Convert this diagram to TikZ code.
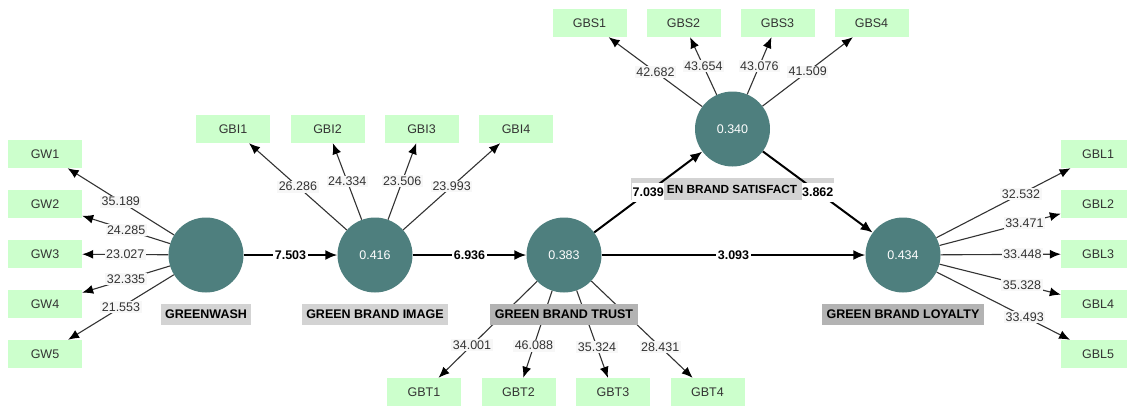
\documentclass[tikz,border=0pt]{standalone}
\usepackage{fontspec}
\setmainfont{Liberation Sans}
\usetikzlibrary{arrows.meta}

\definecolor{lvteal}{HTML}{4E7F7E}
\definecolor{indgreen}{HTML}{CCFFCC}
\definecolor{namegray}{HTML}{D3D3D3}
\definecolor{namedark}{HTML}{B3B3B3}
\definecolor{lblbg}{HTML}{F7F7F7}

\begin{document}
\begin{tikzpicture}[x=1pt, y=-1pt,
    every node/.style={font=\fontsize{12.5}{14}\selectfont},
    latent/.style={circle, fill=lvteal, minimum size=75pt, inner sep=0pt, text=white},
    ind/.style={fill=indgreen, minimum width=74pt, minimum height=28pt, inner sep=0pt, text=black!80},
    lvname/.style={fill=namegray, minimum height=21pt, inner xsep=4.5pt, inner ysep=0pt, font=\fontsize{12.5}{14}\selectfont\bfseries},
    load/.style={draw=black!80, line width=1.1pt, -{Latex[length=11pt,width=9pt,color=black]}},
    inner/.style={draw=black, line width=2pt, -{Latex[length=12pt,width=10pt]}},
    loadlbl/.style={fill=lblbg, inner sep=1.5pt, text=black!80},
    innerlbl/.style={fill=white, inner sep=1.5pt, font=\fontsize{12.5}{14}\selectfont\bfseries}]
    \useasboundingbox (0,0) rectangle (1127,407);

    % latent variables
    \node (gw) [latent] at (206,255) {};
    \node (gbi) [latent] at (375,255) {0.416};
    \node (gbt) [latent] at (564,255) {0.383};
    \node (gbs) [latent] at (732.5,129) {0.340};
    \node (gbl) [latent] at (903,255) {0.434};

    % indicators
    \node (gw1) [ind] at (45,154) {GW1};
    \node (gw2) [ind] at (45,204) {GW2};
    \node (gw3) [ind] at (45,254) {GW3};
    \node (gw4) [ind] at (45,304) {GW4};
    \node (gw5) [ind] at (45,354) {GW5};

    \node (gbi1) [ind] at (233,129) {GBI1};
    \node (gbi2) [ind] at (327.5,129) {GBI2};
    \node (gbi3) [ind] at (421.5,129) {GBI3};
    \node (gbi4) [ind] at (516,129) {GBI4};

    \node (gbt1) [ind] at (424,392) {GBT1};
    \node (gbt2) [ind] at (518.5,392) {GBT2};
    \node (gbt3) [ind] at (613,392) {GBT3};
    \node (gbt4) [ind] at (707.5,392) {GBT4};

    \node (gbs1) [ind] at (589.5,23) {GBS1};
    \node (gbs2) [ind] at (683.5,23) {GBS2};
    \node (gbs3) [ind] at (777.5,23) {GBS3};
    \node (gbs4) [ind] at (871.5,23) {GBS4};

    \node (gbl1) [ind] at (1098,154) {GBL1};
    \node (gbl2) [ind] at (1098,204) {GBL2};
    \node (gbl3) [ind] at (1098,254) {GBL3};
    \node (gbl4) [ind] at (1098,304) {GBL4};
    \node (gbl5) [ind] at (1098,354) {GBL5};

    % outer loadings
    \draw[load] (gw) -- node[loadlbl, pos=.5] {35.189} (gw1);
    \draw[load] (gw) -- node[loadlbl, pos=.5] {24.285} (gw2);
    \draw[load] (gw) -- node[loadlbl, pos=.5] {23.027} (gw3);
    \draw[load] (gw) -- node[loadlbl, pos=.5] {32.335} (gw4);
    \draw[load] (gw) -- node[loadlbl, pos=.5] {21.553} (gw5);

    \draw[load] (gbi) -- node[loadlbl, pos=.5] {26.286} (gbi1);
    \draw[load] (gbi) -- node[loadlbl, pos=.5] {24.334} (gbi2);
    \draw[load] (gbi) -- node[loadlbl, pos=.5] {23.506} (gbi3);
    \draw[load] (gbi) -- node[loadlbl, pos=.5] {23.993} (gbi4);

    \draw[load] (gbt) -- node[loadlbl, pos=.66] {34.001} (gbt1);
    \draw[load] (gbt) -- node[loadlbl, pos=.63] {46.088} (gbt2);
    \draw[load] (gbt) -- node[loadlbl, pos=.65] {35.324} (gbt3);
    \draw[load] (gbt) -- node[loadlbl, pos=.68] {28.431} (gbt4);

    \draw[load] (gbs) -- node[loadlbl, pos=.5] {42.682} (gbs1);
    \draw[load] (gbs) -- node[loadlbl, pos=.5] {43.654} (gbs2);
    \draw[load] (gbs) -- node[loadlbl, pos=.5] {43.076} (gbs3);
    \draw[load] (gbs) -- node[loadlbl, pos=.5] {41.509} (gbs4);

    \draw[load] (gbl) -- node[loadlbl, pos=.63] {32.532} (gbl1);
    \draw[load] (gbl) -- node[loadlbl, pos=.70] {33.471} (gbl2);
    \draw[load] (gbl) -- node[loadlbl, pos=.68] {33.448} (gbl3);
    \draw[load] (gbl) -- node[loadlbl, pos=.68] {35.328} (gbl4);
    \draw[load] (gbl) -- node[loadlbl, pos=.66] {33.493} (gbl5);

    % construct names
    \node (gwName) [lvname] at (206,314.5) {GREENWASH};
    \node (gbiName) [lvname] at (375,314.5) {GREEN BRAND IMAGE};
    \node (gbtName) [lvname, fill=namedark] at (564,314.5) {GREEN BRAND TRUST};
    \node (gblName) [lvname, fill=namedark] at (903,314.5) {GREEN BRAND LOYALTY};
    \node (gbsName) [lvname, minimum width=203pt, minimum height=22pt, font=\fontsize{11.8}{14}\selectfont\bfseries] at (732,189) {EN BRAND SATISFACT};

    % inner model
    \draw[inner] (gw) -- node[innerlbl, pos=.5] {7.503} (gbi);
    \draw[inner] (gbi) -- node[innerlbl, pos=.5] {6.936} (gbt);
    \draw[inner] (gbt) -- node[innerlbl, pos=.5] {3.093} (gbl);
    \draw[inner] (gbt) -- node[innerlbl, pos=.5, minimum height=19pt, inner xsep=0.5pt] {7.039} (gbs);
    \draw[inner] (gbs) -- node[innerlbl, pos=.5, minimum height=19pt, inner xsep=0.5pt] {3.862} (gbl);
\end{tikzpicture}
\end{document}
